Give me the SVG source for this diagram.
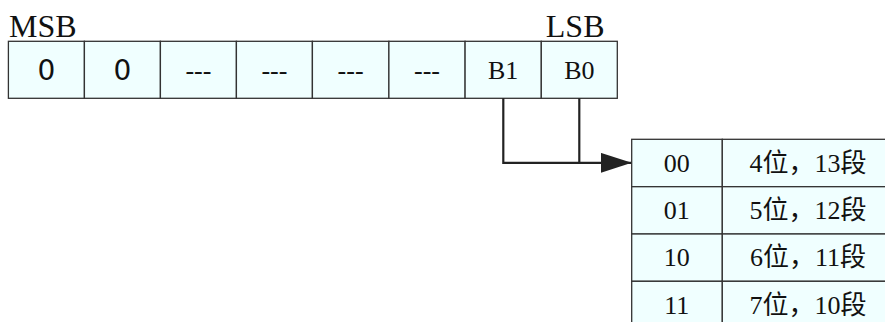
<svg xmlns="http://www.w3.org/2000/svg" width="885" height="322" viewBox="0 0 885 322">
<style>
.cell{fill:#F0FFFF;stroke:#333;stroke-width:1.3}
.serif{font-family:"Liberation Serif","Noto Sans CJK SC",serif;fill:#111}
.sans{font-family:"DejaVu Sans","Liberation Sans",sans-serif;fill:#111}
.t{text-anchor:middle}
.conn{fill:none;stroke:#222;stroke-width:2.2}
</style>
<defs>
<marker id="arr" markerUnits="userSpaceOnUse" markerWidth="32" markerHeight="22" refX="31" refY="10" orient="auto">
<path d="M0,0 L31,10 L0,20 Z" fill="#222"/>
</marker>
</defs>
<g id="labels">
<text class="serif" x="9" y="36.5" font-size="32">MSB</text>
<text class="serif" x="604.5" y="36.5" font-size="32" text-anchor="end">LSB</text>
</g>
<g id="register">
<g id="bit7"><rect class="cell" x="8.4" y="41.3" width="76" height="57"/><text class="sans t" x="46.4" y="80" font-size="28">0</text></g>
<g id="bit6"><rect class="cell" x="84.4" y="41.3" width="76" height="57"/><text class="sans t" x="122.4" y="80" font-size="28">0</text></g>
<g id="bit5"><rect class="cell" x="160.4" y="41.3" width="76" height="57"/><text class="serif t" x="198.4" y="79" font-size="26">---</text></g>
<g id="bit4"><rect class="cell" x="236.4" y="41.3" width="76" height="57"/><text class="serif t" x="274.4" y="79" font-size="26">---</text></g>
<g id="bit3"><rect class="cell" x="312.4" y="41.3" width="76.5" height="57"/><text class="serif t" x="350.6" y="79" font-size="26">---</text></g>
<g id="bit2"><rect class="cell" x="388.9" y="41.3" width="76.2" height="57"/><text class="serif t" x="427" y="79" font-size="26">---</text></g>
<g id="bit1"><rect class="cell" x="465.1" y="41.3" width="76.2" height="57"/><text class="serif t" x="503.2" y="79" font-size="26">B1</text></g>
<g id="bit0"><rect class="cell" x="541.3" y="41.3" width="76" height="57"/><text class="serif t" x="579.3" y="79" font-size="26">B0</text></g>
</g>
<g id="connectors">
<path class="conn" d="M503.3,98.3 V162.8 H631.7" marker-end="url(#arr)"/>
<path class="conn" d="M579.3,98.3 V162.8"/>
</g>
<g id="table">
<g id="row00"><rect class="cell" x="631.7" y="139.3" width="90.6" height="47.4"/><rect class="cell" x="722.3" y="139.3" width="172" height="47.4"/>
<text class="serif t" x="676.7" y="171.7" font-size="26">00</text><text class="serif t" x="808" y="171.7" font-size="26">4位，13段</text></g>
<g id="row01"><rect class="cell" x="631.7" y="186.7" width="90.6" height="47.3"/><rect class="cell" x="722.3" y="186.7" width="172" height="47.3"/>
<text class="serif t" x="676.7" y="219" font-size="26">01</text><text class="serif t" x="808" y="219" font-size="26">5位，12段</text></g>
<g id="row10"><rect class="cell" x="631.7" y="234" width="90.6" height="47.3"/><rect class="cell" x="722.3" y="234" width="172" height="47.3"/>
<text class="serif t" x="676.7" y="266.3" font-size="26">10</text><text class="serif t" x="808" y="266.3" font-size="26">6位，11段</text></g>
<g id="row11"><rect class="cell" x="631.7" y="281.3" width="90.6" height="47.4"/><rect class="cell" x="722.3" y="281.3" width="172" height="47.4"/>
<text class="serif t" x="676.7" y="313.6" font-size="26">11</text><text class="serif t" x="808" y="313.6" font-size="26">7位，10段</text></g>
</g>
</svg>
